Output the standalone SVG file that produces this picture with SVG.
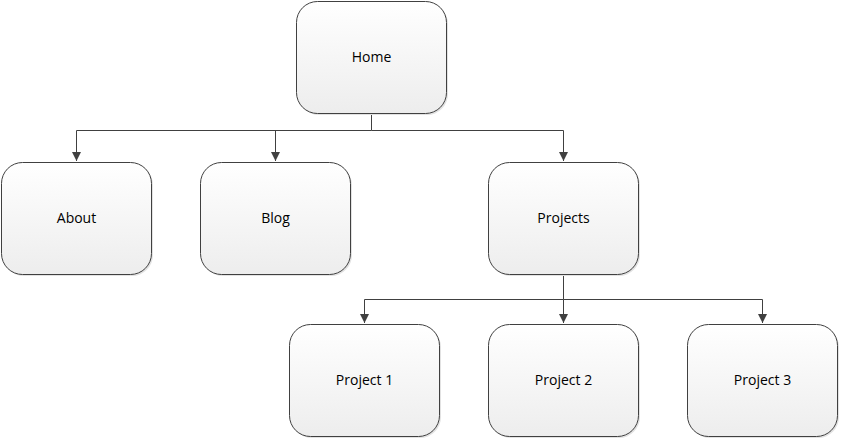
<svg xmlns="http://www.w3.org/2000/svg" width="841" height="439" viewBox="0 0 841 439">
<style>
.box{fill:url(#g);stroke:#404040;stroke-width:1}
.sh{fill:#e2e2e2}
.lbl{font-family:"Open Sans","Liberation Sans",sans-serif;font-size:14px;fill:#000;text-anchor:middle;dominant-baseline:central}
.c{fill:none;stroke:#404040;stroke-width:1}
</style>
<defs>
<linearGradient id="g" x1="0" y1="0" x2="0" y2="1"><stop offset="0" stop-color="#ffffff"/><stop offset="1" stop-color="#ededed"/></linearGradient>
<marker id="a" markerWidth="10" markerHeight="10" refX="9" refY="5" orient="auto" markerUnits="userSpaceOnUse"><path d="M0,0.5 L9,5 L0,9.5 Z" fill="#404040"/></marker>
</defs>
<rect width="841" height="439" fill="#fff"/>
<g id="connectors">
<path class="c" d="M371.5,113 V130.5 H76.5 V161" marker-end="url(#a)"/>
<path class="c" d="M275.5,130.5 V161" marker-end="url(#a)"/>
<path class="c" d="M371.5,130.5 H563.5 V161" marker-end="url(#a)"/>
<path class="c" d="M563.5,274 V299.5 H364.5 V323" marker-end="url(#a)"/>
<path class="c" d="M563.5,299.5 V323" marker-end="url(#a)"/>
<path class="c" d="M563.5,299.5 H762.5 V323" marker-end="url(#a)"/>
</g>
<g id="home"><rect class="sh" x="298" y="3" width="150" height="112" rx="21"/><rect class="box" x="296.5" y="1.5" width="150" height="112" rx="21"/><text class="lbl" x="371.5" y="56">Home</text></g>
<g id="about"><rect class="sh" x="3" y="164" width="150" height="112" rx="21"/><rect class="box" x="1.5" y="162.5" width="150" height="112" rx="21"/><text class="lbl" x="76.5" y="217">About</text></g>
<g id="blog"><rect class="sh" x="202" y="164" width="150" height="112" rx="21"/><rect class="box" x="200.5" y="162.5" width="150" height="112" rx="21"/><text class="lbl" x="275.5" y="217">Blog</text></g>
<g id="projects"><rect class="sh" x="490" y="164" width="150" height="112" rx="21"/><rect class="box" x="488.5" y="162.5" width="150" height="112" rx="21"/><text class="lbl" x="563.5" y="217">Projects</text></g>
<g id="project1"><rect class="sh" x="291" y="326" width="150" height="112" rx="21"/><rect class="box" x="289.5" y="324.5" width="150" height="112" rx="21"/><text class="lbl" x="364.5" y="379">Project 1</text></g>
<g id="project2"><rect class="sh" x="490" y="326" width="150" height="112" rx="21"/><rect class="box" x="488.5" y="324.5" width="150" height="112" rx="21"/><text class="lbl" x="563.5" y="379">Project 2</text></g>
<g id="project3"><rect class="sh" x="689" y="326" width="150" height="112" rx="21"/><rect class="box" x="687.5" y="324.5" width="150" height="112" rx="21"/><text class="lbl" x="762.5" y="379">Project 3</text></g>
</svg>
